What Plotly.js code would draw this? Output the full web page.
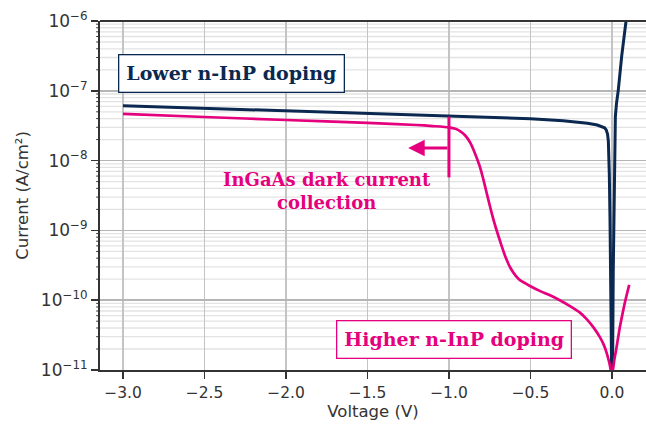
<!DOCTYPE html>
<html>
<head>
<meta charset="utf-8">
<script src="https://cdn.plot.ly/plotly-3.0.1.min.js"></script>
<style>html,body{margin:0;padding:0;background:#fff;}#chart{width:646px;height:425px;}</style>
</head>
<body>
<div id="chart"></div>
<script>
// Lower n-InP doping (navy) : voltage (V) and log10 current (A/cm²)
var lowV = [-3.0, -2.5, -2.0, -1.5, -1.0, -0.7, -0.5, -0.3, -0.15, -0.09, -0.06, -0.045, -0.035, -0.027, -0.022, -0.019, -0.016, -0.012, -0.008, -0.004, -0.002,
            0.002, 0.004, 0.008, 0.013, 0.018, 0.021, 0.028, 0.039, 0.06, 0.086];
var lowLogI = [-7.213, -7.25, -7.285, -7.32, -7.36, -7.38, -7.40, -7.43, -7.465, -7.49, -7.51, -7.53, -7.56, -7.62, -7.72, -7.9, -8.2, -8.8, -9.8, -10.6, -11.0,
               -11.0, -10.95, -9.6, -8.3, -7.70, -7.37, -7.18, -6.99, -6.5, -6.01];
// Higher n-InP doping (pink)
var highV = [-3.0, -2.5, -2.0, -1.5, -1.2, -1.1, -1.0, -0.96, -0.93, -0.9, -0.87, -0.85, -0.83, -0.81, -0.79, -0.77, -0.75, -0.73, -0.71, -0.68, -0.65, -0.62, -0.59, -0.56, -0.53, -0.50, -0.44, -0.38, -0.32, -0.26, -0.2, -0.155, -0.11, -0.074, -0.05, -0.033, -0.02, -0.012, -0.005,
             0.003, 0.008, 0.015, 0.025, 0.037, 0.049, 0.062, 0.075, 0.09, 0.106];
var highLogI = [-7.332, -7.375, -7.418, -7.46, -7.49, -7.505, -7.523, -7.545, -7.58, -7.64, -7.74, -7.84, -7.96, -8.09, -8.26, -8.45, -8.64, -8.82, -8.98, -9.2, -9.40, -9.55, -9.65, -9.72, -9.76, -9.80, -9.87, -9.93, -10.0, -10.08, -10.17, -10.27, -10.4, -10.53, -10.64, -10.75, -10.86, -10.94, -11.02,
              -11.02, -10.97, -10.85, -10.72, -10.55, -10.38, -10.23, -10.08, -9.93, -9.78];

var yTicks = [1e-11, 1e-10, 1e-9, 1e-8, 1e-7, 1e-6];
var yTickText = ['10<sup>−11</sup>', '10<sup>−10</sup>', '10<sup>−9</sup>', '10<sup>−8</sup>', '10<sup>−7</sup>', '10<sup>−6</sup>'];
var minorDigits = [2, 3, 4, 5, 6, 7, 8, 9];
var xTicks = [-3.0, -2.5, -2.0, -1.5, -1.0, -0.5, 0.0];
var xTickText = ['−3.0', '−2.5', '−2.0', '−1.5', '−1.0', '−0.5', '0.0'];

// annotation anchors
var labelLower = {text: 'Lower n-InP doping', x: -2.337, logy: -6.745};
var labelHigher = {text: 'Higher n-InP doping', x: -0.969, logy: -10.556};
var labelInGaAs = {text: 'InGaAs dark current<br>collection', x: -1.748, logy: -8.435};
var markerV = -1.0, markerLogTop = -7.37, markerLogBottom = -8.24;
var arrowLogY = -7.82, arrowHeadV = -1.25;

function pow10(a){ return a.map(function(v){ return Math.pow(10, v); }); }

var navy = '#0a2850', pink = '#e5007d';

var traces = [
  {x: lowV, y: pow10(lowLogI), mode: 'lines', line: {color: navy, width: 3}, hoverinfo: 'skip'},
  {x: highV, y: pow10(highLogI), mode: 'lines', line: {color: pink, width: 2.7, shape: 'spline', smoothing: 0.6}, hoverinfo: 'skip'}
];

var shapes = [];
// minor horizontal gridlines (2..9 × each decade)
yTicks.slice(0, 5).forEach(function(dec){
  minorDigits.forEach(function(d){
    shapes.push({type: 'line', xref: 'paper', yref: 'y', x0: 0, x1: 1, y0: dec * d, y1: dec * d, layer: 'below', line: {color: '#e3e3e3', width: 1.3}});
    shapes.push({type: 'line', xref: 'paper', yref: 'y', x0: -0.007, x1: 0, y0: dec * d, y1: dec * d, line: {color: '#333', width: 1}});
  });
});
shapes.push({type: 'line', xref: 'paper', yref: 'paper', x0: 0, x1: 1, y0: 1, y1: 1, line: {color: '#333', width: 2}});
shapes.push({type: 'line', xref: 'x', yref: 'y', x0: markerV, x1: markerV, y0: Math.pow(10, markerLogTop), y1: Math.pow(10, markerLogBottom), line: {color: pink, width: 3}});

var serif = 'DejaVu Serif, serif';
var layout = {
  width: 646, height: 425,
  margin: {l: 100, r: 0, t: 21, b: 55},
  paper_bgcolor: '#fff', plot_bgcolor: '#fff',
  showlegend: false,
  font: {family: 'DejaVu Sans, sans-serif', color: '#333'},
  xaxis: {
    range: [-3.141, 0.209],
    tickvals: xTicks, ticktext: xTickText,
    ticks: 'outside', ticklen: 7, tickwidth: 1.5, tickcolor: '#333',
    showline: true, linecolor: '#333', linewidth: 2,
    showgrid: true, gridcolor: '#c4c4c4', gridwidth: 1.5,
    zeroline: false,
    tickfont: {size: 15.5, color: '#333'},
    title: {text: 'Voltage (V)', font: {size: 16.5, color: '#333'}, standoff: 3}
  },
  yaxis: {
    type: 'log',
    range: [-11, -6],
    tickvals: yTicks, ticktext: yTickText,
    ticks: 'outside', ticklen: 7, tickwidth: 1.5, tickcolor: '#333',
    showline: true, linecolor: '#333', linewidth: 2,
    showgrid: true, gridcolor: '#b5b5b5', gridwidth: 1.5,
    zeroline: false,
    tickfont: {size: 17, color: '#333'},
    title: {text: 'Current (A/cm²)', font: {size: 16.5, color: '#333'}, standoff: 8}
  },
  shapes: shapes,
  annotations: [
    {x: labelLower.x, y: labelLower.logy, xref: 'x', yref: 'y', text: '<b>' + labelLower.text + '</b>', showarrow: false,
     font: {family: serif, size: 19, color: navy}, bgcolor: '#fff', bordercolor: navy, borderwidth: 1.3, borderpad: 7},
    {x: labelHigher.x, y: labelHigher.logy, xref: 'x', yref: 'y', text: '<b>' + labelHigher.text + '</b>', showarrow: false,
     font: {family: serif, size: 19, color: pink}, bgcolor: '#fff', bordercolor: pink, borderwidth: 1.3, borderpad: 7},
    {x: labelInGaAs.x, y: labelInGaAs.logy, xref: 'x', yref: 'y', text: '<b>' + labelInGaAs.text + '</b>', showarrow: false,
     font: {family: serif, size: 18, color: pink}, align: 'center'},
    {x: arrowHeadV, y: arrowLogY, ax: markerV, ay: arrowLogY, xref: 'x', yref: 'y', axref: 'x', ayref: 'y', text: '',
     showarrow: true, arrowhead: 2, arrowsize: 1.1, arrowwidth: 3, arrowcolor: pink}
  ]
};

Plotly.newPlot('chart', traces, layout, {displayModeBar: false, staticPlot: true});
</script>
</body>
</html>
